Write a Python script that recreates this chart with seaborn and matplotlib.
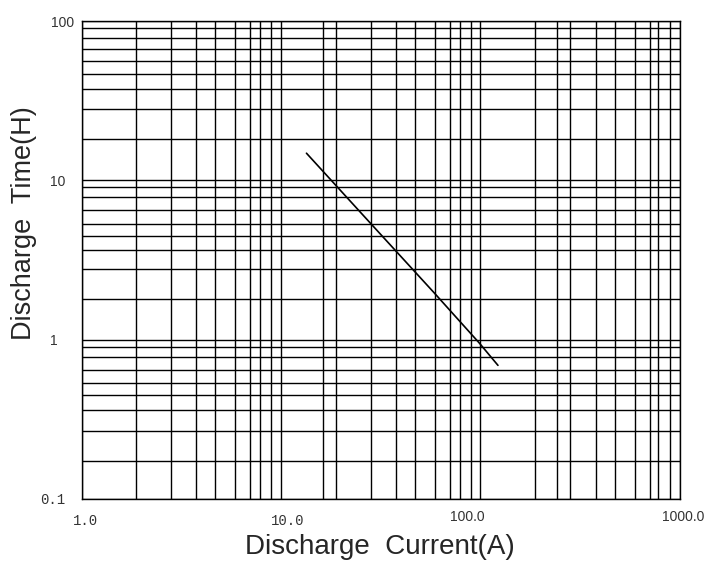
import numpy as np
import pandas as pd
import matplotlib
matplotlib.use("Agg")
import matplotlib.pyplot as plt
import matplotlib.transforms as mtransforms
import seaborn as sns

# discharge curve
current_a = [13.4, 28.0, 58.6, 99.0, 122.6]
time_h = [14.8, 5.4, 1.97, 0.95, 0.69]

# axis ticks
x_major = [1, 10, 100, 1000]
x_major_labels = ["1.0", "10.0", "100.0", "1000.0"]
y_major = [0.1, 1, 10, 100]
y_major_labels = ["0.1", "1", "10", "100"]

# grid lines as drawn in the original (slightly irregular)
x_minor = [1.87, 2.79, 3.73, 4.64, 5.84, 6.95, 7.8, 8.86,
           16.2, 18.75, 28.4, 37.9, 47.2, 59.4, 70.8, 79.5, 90.0,
           187.5, 242, 281, 379, 472, 595, 707, 782, 892]
y_minor = [0.173, 0.267, 0.362, 0.45, 0.534, 0.645, 0.78, 0.9,
           1.81, 2.79, 3.67, 4.5, 5.35, 6.55, 7.9, 9.1,
           18.1, 27.9, 37.3, 46.3, 55.8, 66.4, 77.9, 90.0]

df = pd.DataFrame({"current": current_a, "time": time_h})

sns.set_style("white")
plt.rcParams["font.family"] = ["Liberation Sans", "DejaVu Sans"]

fig = plt.figure(figsize=(7.14, 5.68), dpi=100)
ax = fig.add_axes([0.1148, 0.1215, 0.8369, 0.8415])

sns.lineplot(data=df, x="current", y="time", color="black", linewidth=1.2,
             sort=False, estimator=None, ax=ax)

ax.set_xscale("log")
ax.set_yscale("log")
ax.set_xlim(1, 1000)
ax.set_ylim(0.1, 100)

ax.set_xticks(x_major)
ax.set_xticklabels(x_major_labels)
ax.set_xticks(x_minor, minor=True)
ax.set_yticks(y_major)
ax.set_yticklabels(y_major_labels)
ax.set_yticks(y_minor, minor=True)
ax.xaxis.set_minor_formatter(matplotlib.ticker.NullFormatter())
ax.yaxis.set_minor_formatter(matplotlib.ticker.NullFormatter())

ax.grid(which="both", color="black", linewidth=1.0)
ax.tick_params(which="both", length=0)
ax.tick_params(axis="x", pad=11, labelsize=10, labelcolor="#333333")
ax.tick_params(axis="y", pad=6, labelsize=10, labelcolor="#333333")

# the original mixes a typewriter face for some labels and places them loosely
x_shift = {"1.0": (4, 0), "10.0": (7, 0), "100.0": (-13, 4), "1000.0": (4, 4)}
y_shift = {"100": (0, 0), "10": (-8, 0), "1": (-16, 0), "0.1": (-8, 0)}
for lbl in ax.get_xticklabels():
    txt = lbl.get_text()
    if txt in ("1.0", "10.0"):
        lbl.set_family("Liberation Mono")
    dx, dy = x_shift[txt]
    lbl.set_transform(lbl.get_transform() +
                      mtransforms.ScaledTranslation(dx / 100, dy / 100, fig.dpi_scale_trans))
for lbl in ax.get_yticklabels():
    txt = lbl.get_text()
    if txt == "0.1":
        lbl.set_family("Liberation Mono")
    dx, dy = y_shift[txt]
    lbl.set_transform(lbl.get_transform() +
                      mtransforms.ScaledTranslation(dx / 100, dy / 100, fig.dpi_scale_trans))

for side in ax.spines.values():
    side.set_color("black")
    side.set_linewidth(1.0)

ax.set_xlabel("Discharge  Current(A)", fontsize=20)
ax.set_ylabel("Discharge  Time(H)", fontsize=19.5)
ax.xaxis.set_label_coords(380 / 714, 1 - 547 / 568, transform=fig.transFigure)
ax.yaxis.set_label_coords(24 / 714, 1 - 223 / 568, transform=fig.transFigure)
ax.xaxis.label.set_va("center")
ax.yaxis.label.set_va("center")

fig.savefig("out.png", dpi=100)
